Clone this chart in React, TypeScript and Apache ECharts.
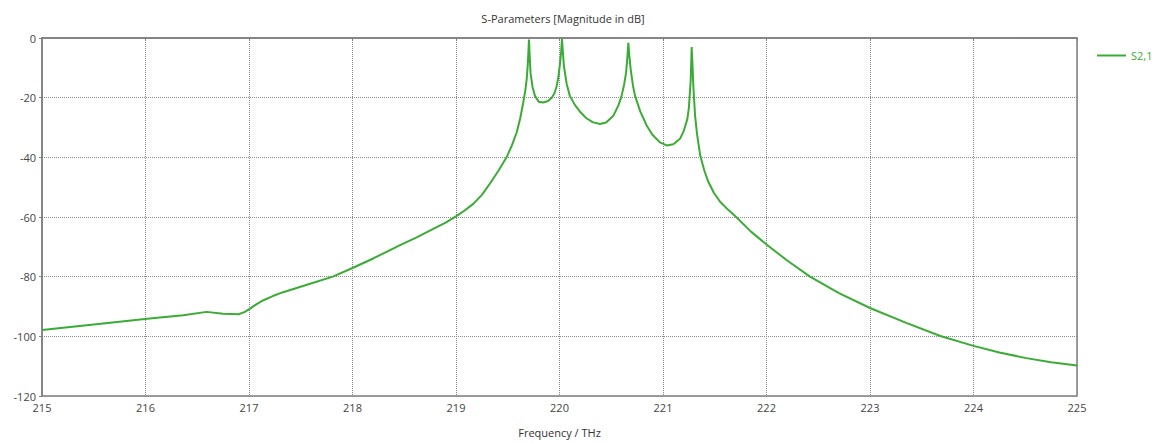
import React, { useEffect, useRef } from "react";
import * as echarts from "echarts";

const freq = [
  215.0, 215.5, 216.04, 216.365, 216.59, 216.75, 216.9, 216.96, 217.01, 217.07,
  217.14, 217.23, 217.33, 217.46, 217.59, 217.81, 218.0, 218.2, 218.46, 218.62,
  218.78, 218.9, 219.0, 219.08, 219.167, 219.25, 219.33, 219.41, 219.49, 219.54,
  219.587, 219.62, 219.65, 219.67, 219.683, 219.695, 219.705, 219.712, 219.72, 219.74,
  219.763, 219.8, 219.844, 219.89, 219.925, 219.95, 219.973, 219.99, 220.005, 220.016,
  220.024, 220.033, 220.043, 220.07, 220.1, 220.15, 220.198, 220.26, 220.32, 220.39,
  220.45, 220.52, 220.57, 220.6, 220.625, 220.643, 220.655, 220.665, 220.675, 220.688,
  220.71, 220.73, 220.78, 220.843, 220.9, 220.97, 221.036, 221.1, 221.164, 221.2,
  221.235, 221.25, 221.268, 221.277, 221.285, 221.293, 221.31, 221.33, 221.36, 221.4,
  221.438, 221.49, 221.55, 221.63, 221.71, 221.85, 222.0, 222.2, 222.42, 222.7,
  223.0, 223.35, 223.68, 224.0, 224.25, 224.51, 224.75, 225.0,
];

const s21 = [
  -97.9, -96.0, -94.0, -92.9, -91.8, -92.4, -92.6, -91.8, -90.7, -89.3,
  -87.9, -86.5, -85.2, -83.8, -82.4, -80.0, -77.1, -73.9, -69.4, -66.8,
  -64.0, -61.9, -59.8, -57.9, -55.6, -52.6, -48.7, -44.5, -39.9, -36.0,
  -31.6, -27.0, -21.6, -17.5, -13.9, -8.0, -0.5, -6.0, -11.7, -16.5,
  -19.4, -21.4, -21.6, -21.1, -20.0, -18.6, -16.1, -13.0, -8.4, -4.5,
  -0.3, -5.0, -9.5, -15.5, -19.4, -22.5, -24.7, -26.9, -28.2, -28.8,
  -28.3, -26.1, -22.5, -19.4, -15.5, -11.7, -7.0, -1.6, -6.0, -10.6,
  -16.0, -19.4, -24.6, -29.4, -32.5, -35.0, -36.0, -35.6, -33.8, -31.2,
  -27.2, -23.5, -14.0, -3.0, -9.0, -16.1, -26.1, -32.5, -39.5, -44.5,
  -48.2, -51.8, -54.8, -57.6, -60.1, -64.9, -69.2, -74.6, -80.0, -85.5,
  -90.5, -95.5, -99.9, -103.2, -105.4, -107.3, -108.7, -109.8,
];

const seriesName = "S2,1";
const chartTitle = "S-Parameters [Magnitude in dB]";
const xTitle = "Frequency / THz";

export default function App() {
  const ref = useRef<HTMLDivElement>(null);
  useEffect(() => {
    if (!ref.current) return;
    const chart = echarts.init(ref.current, undefined, { renderer: "svg" });
    const green = "#3aac35";
    const font = "'Open Sans', 'DejaVu Sans', sans-serif";
    chart.setOption({
      animation: false,
      backgroundColor: "#ffffff",
      title: {
        text: chartTitle,
        left: 558,
        top: 8,
        textAlign: "center",
        textStyle: { fontSize: 11, fontWeight: "normal", color: "#333", fontFamily: font },
      },
      legend: {
        left: 1092,
        top: 45,
        icon: "rect",
        itemWidth: 29,
        itemHeight: 2,
        itemGap: 4,
        textStyle: { color: green, fontSize: 11, fontFamily: font },
        data: [seriesName],
      },
      grid: {
        left: 42,
        top: 38,
        right: 84,
        bottom: 43,
        show: true,
        borderColor: "#7f7f7f",
        borderWidth: 1.5,
      },
      xAxis: {
        type: "value",
        min: 215,
        max: 225,
        interval: 1,
        name: xTitle,
        nameLocation: "middle",
        nameGap: 31,
        nameTextStyle: { fontSize: 11, color: "#333", fontFamily: font },
        axisLine: { show: true, lineStyle: { color: "#7f7f7f", width: 1.5 } },
        axisTick: { show: true, length: 3, lineStyle: { color: "#7f7f7f" } },
        axisLabel: { fontSize: 11, color: "#444", margin: 6, fontFamily: font },
        splitLine: { show: true, lineStyle: { type: "dotted", color: "#8a8a8a", width: 1 } },
      },
      yAxis: {
        type: "value",
        min: -120,
        max: 0,
        interval: 20,
        axisLine: { show: true, lineStyle: { color: "#7f7f7f", width: 1.5 } },
        axisTick: { show: true, length: 3, lineStyle: { color: "#7f7f7f" } },
        axisLabel: { fontSize: 11, color: "#444", margin: 6, fontFamily: font },
        splitLine: { show: true, lineStyle: { type: "dotted", color: "#8a8a8a", width: 1 } },
      },
      series: [
        {
          name: seriesName,
          type: "line",
          data: freq.map((f, i) => [f, s21[i]]),
          showSymbol: false,
          symbol: "none",
          smooth: false,
          lineStyle: { color: green, width: 2 },
          itemStyle: { color: green },
        },
      ],
    });
    return () => chart.dispose();
  }, []);
  return (
    <div
      ref={ref}
      style={{ position: "fixed", left: 0, top: 0, width: 1161, height: 443 }}
    />
  );
}
